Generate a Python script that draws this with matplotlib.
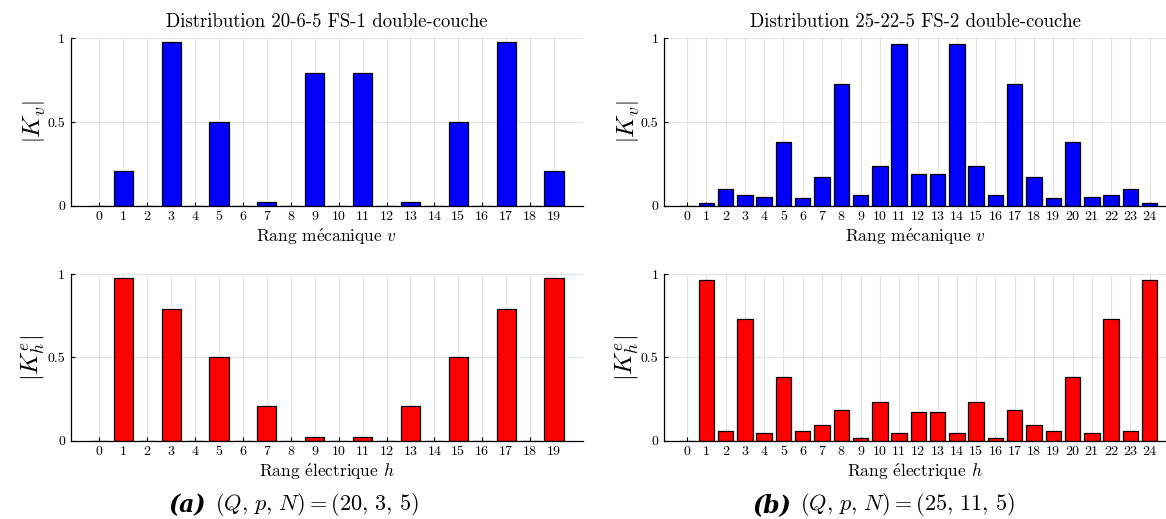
"""
Winding factor spectra for two double-layer fractional-slot distributions.
"""

import numpy as np
import matplotlib.pyplot as plt

plt.rcParams['font.family'] = 'serif'
plt.rcParams['font.serif'] = ['cmr10']
plt.rcParams['mathtext.fontset'] = 'cm'
plt.rcParams['axes.formatter.use_mathtext'] = True

# (a) 20-6-5 FS-1
rank_a = list(range(20))
kv_a = [0, 0.21, 0, 0.976, 0, 0.5, 0, 0.024, 0, 0.794,
        0, 0.794, 0, 0.024, 0, 0.5, 0, 0.976, 0, 0.21]
kh_a = [0, 0.976, 0, 0.794, 0, 0.5, 0, 0.21, 0, 0.024,
        0, 0.024, 0, 0.21, 0, 0.5, 0, 0.794, 0, 0.976]

# (b) 25-22-5 FS-2
rank_b = list(range(25))
kv_b = [0, 0.016, 0.097, 0.062, 0.05, 0.381, 0.046, 0.171, 0.728, 0.062,
        0.236, 0.966, 0.187, 0.187, 0.966, 0.236, 0.062, 0.728, 0.171, 0.046,
        0.381, 0.05, 0.062, 0.097, 0.016]
kh_b = [0, 0.968, 0.06, 0.729, 0.044, 0.381, 0.06, 0.096, 0.184, 0.014,
        0.234, 0.048, 0.17, 0.17, 0.048, 0.234, 0.014, 0.184, 0.096, 0.06,
        0.381, 0.044, 0.729, 0.06, 0.968]

titles = ['Distribution 20-6-5 FS-1 double-couche',
          'Distribution 25-22-5 FS-2 double-couche']
captions = [r'$(Q,\,p,\,N)=(20,\,3,\,5)$', r'$(Q,\,p,\,N)=(25,\,11,\,5)$']
letters = ['(a)', '(b)']

fig = plt.figure(figsize=(11.66, 5.19), dpi=100)

W, H = 1166, 519


def make_ax(x0, x1, ytop, ybot):
    return fig.add_axes([x0 / W, 1 - ybot / H, (x1 - x0) / W, (ybot - ytop) / H])


def style(ax, ranks, xmax):
    ax.set_xlim(-1.2, xmax)
    ax.set_ylim(0, 1)
    ax.set_xticks(ranks)
    ax.set_xticklabels([str(r) for r in ranks])
    ax.set_yticks([0, 0.5, 1])
    ax.set_yticklabels(['0', '0.5', '1'])
    ax.tick_params(direction='in', length=3, width=0.8, labelsize=10, pad=4)
    ax.grid(True, color='#e3e3e3', linewidth=0.8)
    ax.set_axisbelow(True)
    ax.spines['top'].set_visible(False)
    ax.spines['right'].set_visible(False)
    ax.spines['left'].set_linewidth(0.9)
    ax.spines['bottom'].set_linewidth(0.9)


panels = [
    (70.7, 582.7, rank_a, kv_a, kh_a, 20.2),
    (664.0, 1166.0, rank_b, kv_b, kh_b, 24.85),
]

for i, (x0, x1, ranks, kv, kh, xmax) in enumerate(panels):
    ax1 = make_ax(x0, x1, 38.3, 205.7)
    ax1.bar(ranks, kv, width=0.8, color='#0000ff', edgecolor='black', linewidth=0.9)
    style(ax1, ranks, xmax)
    ax1.set_title(titles[i], fontsize=13.5, pad=8)
    ax1.set_xlabel('Rang m$\\mathrm{\\acute{e}}$canique $v$', fontsize=12.5, labelpad=2)
    ax1.set_ylabel(r'$\left|K_v\right|$', fontsize=18, labelpad=0)

    ax2 = make_ax(x0, x1, 274.3, 440.7)
    ax2.bar(ranks, kh, width=0.8, color='#ff0000', edgecolor='black', linewidth=0.9)
    style(ax2, ranks, xmax)
    ax2.set_xlabel('Rang $\\mathrm{\\acute{e}}$lectrique $h$', fontsize=12.5, labelpad=2)
    ax2.set_ylabel(r'$\left|K^e_h\right|$', fontsize=18, labelpad=0)

    xc = [206, 791][i]
    fig.text(xc / W, 1 - 505 / H, letters[i], fontsize=17, family='DejaVu Serif',
             fontweight='bold', fontstyle='italic', ha='right', va='center')
    fig.text((xc + 9) / W, 1 - 505 / H, captions[i], fontsize=16,
             ha='left', va='center')

plt.savefig('out.png', dpi=100)
